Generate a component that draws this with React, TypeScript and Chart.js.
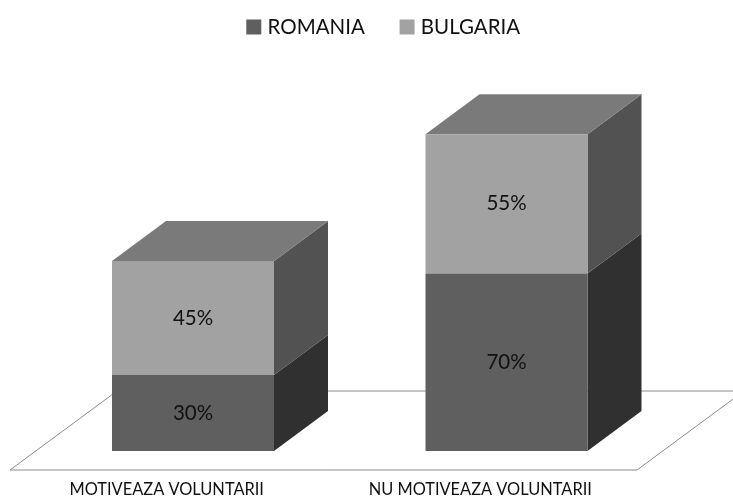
import React, { useEffect, useRef } from "react";
import { Chart, registerables } from "chart.js";

Chart.register(...registerables);

const categories = ["MOTIVEAZA VOLUNTARII", "NU MOTIVEAZA VOLUNTARII"];
const romania = [30, 70];
const bulgaria = [45, 55];

const FONT = "Lato, Carlito, Calibri, sans-serif";
const DEPTH_X = 54;
const DEPTH_Y = 40;
const FLOOR_SHIFT_X = 26.25;
const FLOOR_SHIFT_Y = 19;
const LEGEND_SHIFT_X = 35.5;
const LEGEND_SHIFT_Y = -22;

const sideColors = ["#303030", "#525252"];
const topColor = "#7a7a7a";

const cubePlugin = {
  id: "cube",
  afterLayout(chart: any) {
    const lg = chart.legend;
    lg.left += LEGEND_SHIFT_X;
    lg.right += LEGEND_SHIFT_X;
    lg.top += LEGEND_SHIFT_Y;
    lg.bottom += LEGEND_SHIFT_Y;
  },
  beforeDatasetsDraw(chart: any) {
    const { ctx, chartArea: a } = chart;
    ctx.save();
    // floor
    const fl = a.left - FLOOR_SHIFT_X;
    const fr = a.right - FLOOR_SHIFT_X;
    const fb = a.bottom + FLOOR_SHIFT_Y;
    const ft = fb - 79;
    const fdx = 107;
    ctx.beginPath();
    ctx.moveTo(fl, fb);
    ctx.lineTo(fr, fb);
    ctx.lineTo(fr + fdx, ft);
    ctx.lineTo(fl + fdx, ft);
    ctx.closePath();
    ctx.strokeStyle = "#8c8c8c";
    ctx.lineWidth = 1;
    ctx.stroke();
    // side and top faces
    chart.data.datasets.forEach((_: any, di: number) => {
      chart.getDatasetMeta(di).data.forEach((el: any) => {
        const half = el.width / 2;
        const r = el.x + half;
        const l = el.x - half;
        ctx.beginPath();
        ctx.moveTo(r, el.y);
        ctx.lineTo(r + DEPTH_X, el.y - DEPTH_Y);
        ctx.lineTo(r + DEPTH_X, el.base - DEPTH_Y);
        ctx.lineTo(r, el.base);
        ctx.closePath();
        ctx.fillStyle = sideColors[di];
        ctx.fill();
        if (di === chart.data.datasets.length - 1) {
          ctx.beginPath();
          ctx.moveTo(l, el.y);
          ctx.lineTo(l + DEPTH_X, el.y - DEPTH_Y);
          ctx.lineTo(r + DEPTH_X, el.y - DEPTH_Y);
          ctx.lineTo(r, el.y);
          ctx.closePath();
          ctx.fillStyle = topColor;
          ctx.fill();
          ctx.beginPath();
          ctx.moveTo(r, el.y);
          ctx.lineTo(r + DEPTH_X, el.y - DEPTH_Y);
          ctx.strokeStyle = "#8a8a8a";
          ctx.stroke();
        }
      });
    });
    ctx.restore();
  },
  afterDatasetsDraw(chart: any) {
    const { ctx } = chart;
    ctx.save();
    ctx.font = `20.5px ${FONT}`;
    ctx.fillStyle = "#111111";
    ctx.textAlign = "center";
    ctx.textBaseline = "middle";
    chart.data.datasets.forEach((ds: any, di: number) => {
      chart.getDatasetMeta(di).data.forEach((el: any, i: number) => {
        ctx.fillText(`${ds.data[i]}%`, el.x, (el.y + el.base) / 2);
      });
    });
    ctx.restore();
  },
};

export default function App() {
  const ref = useRef<HTMLCanvasElement>(null);
  useEffect(() => {
    if (!ref.current) return;
    const chart = new Chart(ref.current, {
      type: "bar",
      data: {
        labels: categories,
        datasets: [
          { label: "ROMANIA", data: romania, backgroundColor: "#5f5f5f", borderWidth: 0 },
          { label: "BULGARIA", data: bulgaria, backgroundColor: "#a2a2a2", borderWidth: 0 },
        ],
      },
      options: {
        responsive: false,
        animation: false,
        layout: { padding: { left: 36.25, right: 69.75, top: 0, bottom: 0 } },
        datasets: { bar: { barPercentage: 1, categoryPercentage: 0.5167 } },
        plugins: {
          tooltip: { enabled: false },
          legend: {
            position: "top",
            labels: {
              boxWidth: 7,
              boxHeight: 7,
              padding: 38.75,
              color: "#111111",
              font: { family: FONT, size: 20.5 },
              generateLabels(c: any) {
                return Chart.defaults.plugins.legend.labels.generateLabels(c).map((it: any) => ({
                  ...it,
                  strokeStyle: it.fillStyle,
                  lineWidth: 8,
                }));
              },
            },
          },
        },
        scales: {
          x: {
            stacked: true,
            grid: { display: false },
            border: { display: false },
            afterFit(scale: any) {
              scale.height = 45;
            },
            ticks: {
              labelOffset: -FLOOR_SHIFT_X,
              maxRotation: 0,
              autoSkip: false,
              padding: 21,
              color: "#111111",
              font: { family: FONT, size: 16.4 },
            },
          },
          y: { stacked: true, display: false, min: 0, max: 150.6 },
        },
      },
      plugins: [cubePlugin],
    } as any);
    return () => chart.destroy();
  }, []);
  return (
    <div style={{ position: "absolute", left: 0, top: 0, width: 733, height: 496, background: "#fff" }}>
      <canvas ref={ref} width={733} height={496} style={{ display: "block" }} />
    </div>
  );
}
